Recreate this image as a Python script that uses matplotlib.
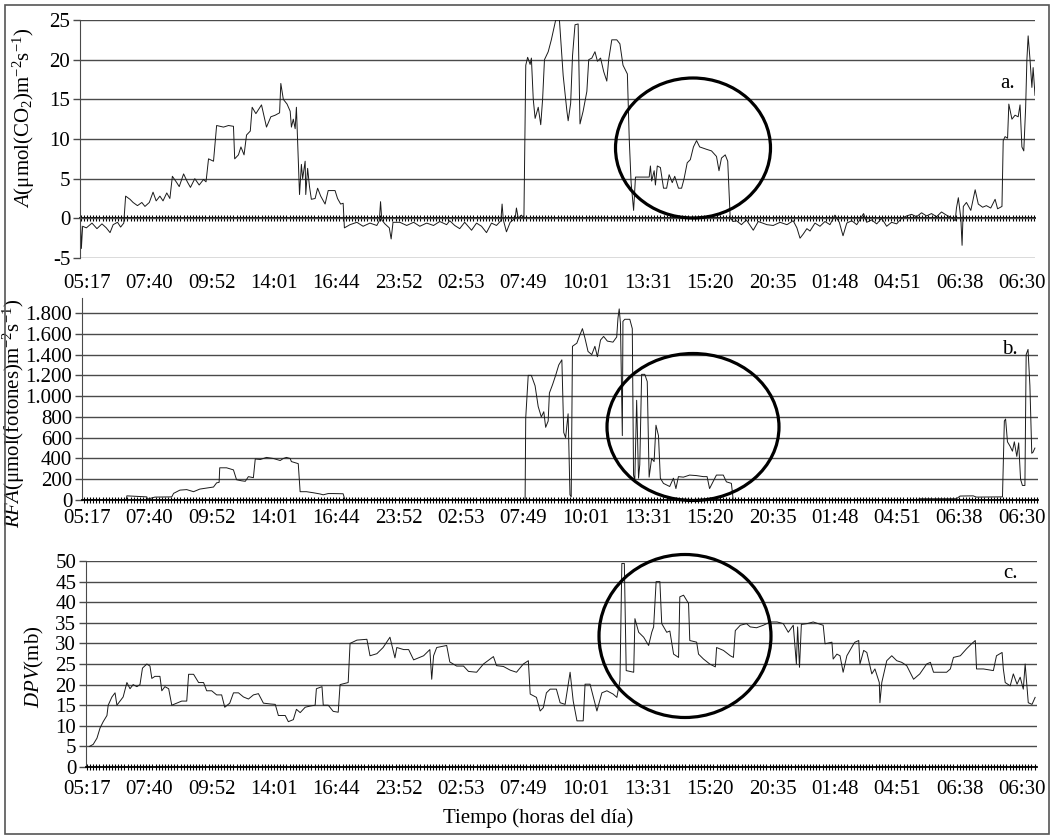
import matplotlib
matplotlib.use('Agg')
import matplotlib.pyplot as plt
from matplotlib.patches import Ellipse, Rectangle
from matplotlib.ticker import MultipleLocator, FuncFormatter

plt.rcParams['font.family'] = ['Liberation Serif', 'DejaVu Serif']
plt.rcParams['mathtext.fontset'] = 'custom'
plt.rcParams['mathtext.rm'] = 'Liberation Serif'
plt.rcParams['mathtext.it'] = 'Liberation Serif:italic'
plt.rcParams['axes.unicode_minus'] = False

# etiquetas del eje de tiempo (una cada intervalo de muestras)
horas = ['05:17', '07:40', '09:52', '14:01', '16:44', '23:52', '02:53', '07:49',
         '10:01', '13:31', '15:20', '20:35', '01:48', '04:51', '06:38', '06:30']

# a. asimilación de CO2 -- posición en intervalos de etiqueta, valor
a_t = [-0.10, -0.09, -0.07, -0.01, 0.08, 0.16, 0.24, 0.31, 0.37, 0.42, 0.49, 0.54, 0.59,
       0.62, 0.69, 0.74, 0.81, 0.88, 0.93, 1.00, 1.06, 1.11, 1.17, 1.22, 1.28, 1.33,
       1.37, 1.44, 1.48, 1.55, 1.61, 1.66, 1.73, 1.80, 1.87, 1.91, 1.95, 2.03, 2.08,
       2.19, 2.27, 2.35, 2.37, 2.43, 2.47, 2.52, 2.56, 2.62, 2.65, 2.71, 2.80, 2.88,
       2.95, 3.02, 3.09, 3.11, 3.15, 3.21, 3.26, 3.28, 3.31, 3.34, 3.36, 3.39, 3.41,
       3.44, 3.46, 3.50, 3.51, 3.54, 3.57, 3.60, 3.66, 3.70, 3.75, 3.82, 3.87, 3.98,
       4.02, 4.07, 4.11, 4.13, 4.22, 4.33, 4.43, 4.54, 4.65, 4.69, 4.71, 4.73, 4.78,
       4.85, 4.88, 4.91, 5.02, 5.13, 5.24, 5.34, 5.45, 5.56, 5.66, 5.77, 5.82, 5.90,
       5.98, 6.06, 6.17, 6.25, 6.33, 6.41, 6.49, 6.57, 6.64, 6.66, 6.68, 6.73, 6.79,
       6.87, 6.89, 6.92, 6.97, 7.01, 7.04, 7.07, 7.11, 7.13, 7.16, 7.19, 7.24, 7.28,
       7.31, 7.34, 7.40, 7.45, 7.52, 7.58, 7.64, 7.70, 7.72, 7.76, 7.79, 7.83, 7.88,
       7.91, 7.96, 8.02, 8.05, 8.10, 8.15, 8.19, 8.24, 8.29, 8.34, 8.37, 8.42, 8.50,
       8.55, 8.60, 8.67, 8.70, 8.73, 8.77, 8.80, 8.93, 9.02, 9.04, 9.06, 9.10, 9.12,
       9.15, 9.20, 9.25, 9.30, 9.34, 9.39, 9.43, 9.49, 9.54, 9.58, 9.63, 9.68, 9.73,
       9.78, 9.83, 9.94, 10.02, 10.10, 10.14, 10.18, 10.24, 10.28, 10.32, 10.37,
       10.42, 10.50, 10.58, 10.69, 10.77, 10.91, 11.01, 11.12, 11.23, 11.33, 11.39,
       11.44, 11.49, 11.55, 11.60, 11.68, 11.76, 11.84, 11.92, 12.00, 12.07, 12.13,
       12.19, 12.27, 12.35, 12.46, 12.51, 12.59, 12.67, 12.75, 12.83, 12.91, 12.99,
       13.07, 13.15, 13.23, 13.31, 13.39, 13.47, 13.55, 13.63, 13.71, 13.79, 13.87,
       13.93, 13.95, 13.98, 14.02, 14.04, 14.06, 14.11, 14.18, 14.25, 14.30, 14.37,
       14.43, 14.50, 14.57, 14.61, 14.68, 14.70, 14.73, 14.77, 14.79, 14.84, 14.89,
       14.94, 14.97, 15.00, 15.03, 15.06, 15.08, 15.10, 15.13, 15.16, 15.18, 15.21]
a_v = [-1.0, -3.8, -1.0, -1.2, -0.6, -1.3, -0.7, -1.2, -1.8, -0.8, -0.5, -1.1, -0.6,
       2.8, 2.4, 2.0, 1.6, 2.0, 1.5, 2.0, 3.3, 2.2, 2.8, 2.2, 3.2, 2.5,
       5.3, 4.5, 4.0, 5.6, 4.6, 3.9, 5.0, 4.2, 4.9, 4.6, 7.5, 7.2, 11.7,
       11.5, 11.7, 11.6, 7.5, 8.0, 9.0, 8.0, 10.5, 11.0, 14.0, 13.2, 14.3, 11.5,
       12.8, 13.0, 13.3, 17.0, 15.0, 14.4, 13.5, 11.5, 12.5, 11.3, 14.0, 7.5, 3.0,
       6.8, 5.0, 7.2, 3.0, 6.3, 4.0, 2.4, 2.5, 3.8, 2.8, 1.8, 3.5, 3.5,
       2.5, 1.8, 1.9, -1.2, -0.8, -0.5, -1.0, -0.6, -0.9, -0.3, 2.1, -0.2, -0.7,
       -1.2, -2.6, -0.5, -0.5, -0.9, -0.5, -1.0, -0.6, -0.9, -0.4, -0.8, -0.3, -0.9,
       -1.3, -0.5, -1.5, -0.6, -1.0, -1.8, -0.6, -0.9, -0.3, 1.8, -0.2, -1.7, -0.5,
       0.0, 1.3, 0.0, 0.4, 0.0, 19.3, 20.3, 19.4, 20.2, 15.0, 12.6, 14.0, 11.8,
       15.0, 20.0, 21.0, 22.5, 25.0, 25.0, 18.0, 13.5, 12.3, 14.5, 20.5, 24.4, 24.5,
       11.9, 13.5, 16.0, 20.0, 20.2, 21.0, 19.8, 20.2, 18.5, 17.3, 20.0, 22.5, 22.5,
       22.0, 19.3, 18.2, 10.0, 4.5, 1.0, 5.2, 5.2, 5.2, 6.6, 4.7, 6.0, 4.2,
       6.6, 6.4, 3.8, 3.8, 5.5, 4.5, 5.3, 3.8, 3.8, 5.0, 7.0, 7.4, 9.0,
       9.8, 9.0, 8.7, 8.5, 7.8, 6.0, 7.6, 8.0, 7.2, 0.0, -0.4,
       -0.3, -0.8, -0.2, -1.5, -0.4, -0.8, -0.9, -0.5, -0.8, -0.3, -1.2,
       -2.5, -2.0, -1.3, -1.6, -0.6, -1.0, -0.4, -0.8, 0.4, -0.5, -2.2,
       -0.6, -0.3, -0.8, 0.6, -0.5, -0.2, -0.7, 0.0, -1.0, -0.5, -0.7,
       0.0, 0.3, 0.5, 0.2, 0.7, 0.3, 0.6, 0.2, 0.8, 0.4, 0.1,
       -0.3, 1.3, 2.6, 0.0, -3.4, 1.5, 2.0, 1.0, 3.6, 1.8, 1.4,
       1.6, 1.3, 2.4, 1.2, 1.5, 9.8, 10.3, 10.1, 14.4, 12.5, 13.0,
       12.8, 14.3, 9.0, 8.5, 14.0, 20.0, 23.0, 20.0, 16.5, 19.0, 15.5]

# b. radiación fotosintéticamente activa
b_t = [-0.08, 0.63, 0.64, 0.96, 0.97, 1.09, 1.36, 1.39, 1.49, 1.60, 1.71, 1.81, 1.92,
       2.03, 2.08, 2.12, 2.13, 2.24, 2.35, 2.40, 2.48, 2.54, 2.59, 2.67, 2.70, 2.78,
       2.88, 2.99, 3.10, 3.15, 3.20, 3.26, 3.28, 3.39, 3.42, 3.52, 3.63, 3.74, 3.79,
       3.87, 3.95, 4.11, 4.14, 7.03, 7.04, 7.08, 7.13, 7.19, 7.24, 7.29, 7.33, 7.36,
       7.40, 7.42, 7.47, 7.52, 7.57, 7.62, 7.65, 7.68, 7.72, 7.75, 7.77, 7.79, 7.86,
       7.91, 7.95, 7.99, 8.04, 8.10, 8.15, 8.19, 8.24, 8.29, 8.35, 8.44, 8.50, 8.52,
       8.54, 8.56, 8.59, 8.60, 8.63, 8.71, 8.75, 8.77, 8.79, 8.82, 8.85, 8.87, 8.90,
       8.95, 8.99, 9.02, 9.06, 9.10, 9.13, 9.17, 9.20, 9.25, 9.30, 9.35, 9.41, 9.45,
       9.49, 9.57, 9.67, 9.78, 9.89, 9.95, 9.99, 10.05, 10.10, 10.21, 10.26, 10.34,
       10.37, 13.31, 13.36, 13.95, 14.01, 14.22, 14.27, 14.69, 14.72, 14.74, 14.77,
       14.81, 14.85, 14.88, 14.92, 14.95, 14.98, 15.01, 15.05, 15.07, 15.10, 15.13,
       15.16, 15.18, 15.21]
b_v = [0, 0, 40, 30, 8, 28, 30, 64, 95, 100, 80, 105, 115,
       125, 165, 170, 310, 310, 290, 195, 185, 180, 225, 215, 395, 390,
       410, 400, 380, 400, 410, 400, 370, 350, 80, 80, 70, 58, 50,
       62, 62, 60, 0, 0, 790, 1200, 1200, 1100, 900, 800, 850, 700,
       760, 1030, 1110, 1200, 1300, 1350, 650, 600, 830, 50, 30, 1480, 1510,
       1590, 1650, 1560, 1430, 1400, 1480, 1380, 1540, 1575, 1530, 1520, 1570, 1750,
       1840, 1700, 620, 1720, 1740, 1740, 1650, 240, 190, 960, 210, 340, 1210,
       1210, 1140, 220, 400, 370, 720, 620, 210, 160, 145, 130, 210, 110,
       225, 220, 240, 235, 225, 225, 110, 180, 240, 240, 175, 160,
       0, 0, 12, 12, 38, 40, 28, 30, 760, 780, 560,
       520, 470, 560, 420, 550, 200, 140, 140, 1400, 1450, 1100,
       450, 460, 500]

# c. déficit de presión de vapor
c_t = [0.04, 0.10, 0.16, 0.21, 0.26, 0.32, 0.34, 0.40, 0.45, 0.48, 0.53, 0.58, 0.64,
       0.69, 0.74, 0.80, 0.85, 0.89, 0.96, 1.01, 1.04, 1.09, 1.17, 1.20, 1.25, 1.31,
       1.36, 1.44, 1.52, 1.60, 1.63, 1.71, 1.79, 1.87, 1.92, 2.00, 2.08, 2.16, 2.21,
       2.29, 2.35, 2.43, 2.51, 2.59, 2.67, 2.75, 2.83, 2.94, 3.02, 3.07, 3.18, 3.23,
       3.31, 3.36, 3.42, 3.50, 3.58, 3.66, 3.68, 3.77, 3.79, 3.87, 3.95, 4.03, 4.06,
       4.19, 4.22, 4.33, 4.49, 4.54, 4.65, 4.75, 4.86, 4.94, 4.97, 5.08, 5.16, 5.24,
       5.40, 5.50, 5.53, 5.56, 5.61, 5.77, 5.82, 5.93, 6.04, 6.12, 6.25, 6.36, 6.52,
       6.57, 6.68, 6.79, 6.89, 7.00, 7.08, 7.11, 7.21, 7.27, 7.32, 7.37, 7.43, 7.53,
       7.59, 7.67, 7.75, 7.80, 7.86, 7.96, 7.99, 8.07, 8.18, 8.26, 8.34, 8.44, 8.50,
       8.55, 8.58, 8.62, 8.65, 8.77, 8.79, 8.85, 8.93, 9.01, 9.06, 9.09, 9.13, 9.19,
       9.22, 9.30, 9.35, 9.41, 9.49, 9.51, 9.57, 9.65, 9.67, 9.78, 9.81, 9.89, 9.99,
       10.08, 10.10, 10.21, 10.32, 10.37, 10.40, 10.48, 10.58, 10.64, 10.74, 10.85,
       10.96, 11.07, 11.17, 11.25, 11.33, 11.38, 11.40, 11.43, 11.46, 11.55, 11.65,
       11.81, 11.84, 11.95, 11.97, 12.03, 12.08, 12.13, 12.19, 12.30, 12.32, 12.38,
       12.40, 12.46, 12.51, 12.59, 12.64, 12.71, 12.72, 12.75, 12.83, 12.91, 12.99,
       13.07, 13.15, 13.26, 13.36, 13.47, 13.53, 13.58, 13.79, 13.85, 13.90, 14.01,
       14.11, 14.19, 14.25, 14.27, 14.38, 14.54, 14.59, 14.68, 14.70, 14.73, 14.81,
       14.86, 14.92, 14.97, 15.02, 15.05, 15.08, 15.10, 15.16, 15.21]
c_v = [5.0, 5.5, 7.0, 9.5, 11.0, 12.5, 15.0, 17.0, 18.0, 15.0, 16.0, 17.0, 20.5,
       19.0, 20.0, 19.5, 20.0, 24.0, 25.0, 24.5, 21.5, 22.0, 22.0, 18.5, 19.5, 19.0,
       15.0, 15.5, 16.0, 16.0, 22.5, 22.5, 20.5, 20.5, 18.5, 18.5, 17.5, 17.5, 14.5,
       15.5, 18.0, 18.0, 17.0, 16.5, 17.5, 17.8, 15.5, 15.3, 15.2, 12.5, 12.5, 11.0,
       11.5, 14.0, 13.2, 14.5, 14.8, 15.0, 19.0, 19.5, 15.0, 15.0, 13.5, 13.3, 20.0,
       20.5, 30.0, 30.8, 31.0, 27.0, 27.5, 29.0, 31.5, 26.5, 29.0, 28.5, 28.5, 26.0,
       27.0, 28.5, 21.3, 27.0, 29.0, 29.5, 25.5, 24.5, 24.5, 23.2, 23.0, 25.0, 26.8,
       24.6, 24.4, 23.5, 23.0, 25.0, 25.8, 17.7, 16.9, 13.6, 14.4, 18.0, 18.9, 18.9,
       15.6, 15.2, 23.0, 16.0, 11.2, 11.2, 20.1, 20.1, 13.6, 18.0, 18.5, 17.7, 16.9,
       21.0, 49.4, 49.4, 23.4, 23.0, 36.0, 32.7, 31.5, 29.5, 32.7, 34.0, 45.0, 45.0,
       34.8, 32.7, 33.0, 27.4, 26.6, 41.3, 41.7, 39.7, 30.7, 30.3, 27.4, 26.2, 25.0,
       24.3, 29.0, 28.3, 27.0, 26.6, 33.1, 34.4, 34.8, 34.0, 33.8, 34.4,
       35.2, 35.2, 34.8, 32.7, 34.4, 25.0, 34.0, 24.2, 34.6, 34.8, 35.2,
       34.4, 29.9, 30.3, 26.2, 27.4, 27.0, 23.0, 27.0, 29.9, 30.3, 30.7,
       25.0, 28.3, 27.8, 22.6, 23.8, 20.5, 15.6, 20.5, 25.8, 27.0, 25.8,
       25.4, 24.6, 21.3, 22.6, 25.0, 25.4, 23.0, 23.0, 23.8, 26.6, 27.0,
       28.7, 29.9, 30.7, 23.8, 23.8, 23.4, 27.0, 27.8, 23.8, 20.5, 19.7,
       22.6, 20.1, 21.8, 18.9, 25.0, 19.3, 15.6, 15.2, 16.9]

W, H = 1056, 835
FS = 15
GRID = '#4a4a4a'
LINE = '#1a1a1a'


def caja(x0, y0, x1, y1):
    # rectángulo en píxeles (origen arriba a la izquierda) -> fracción de figura
    return [x0 / W, 1 - y1 / H, (x1 - x0) / W, (y1 - y0) / H]


def base(ax, ylim, yticks):
    ax.set_ylim(*ylim)
    ax.set_yticks(yticks)
    ax.grid(axis='y', color=GRID, linewidth=1.0)
    ax.set_axisbelow(True)
    for s in ['top', 'right']:
        ax.spines[s].set_visible(False)
    ax.spines['left'].set_color(GRID)
    ax.tick_params(axis='y', labelsize=FS, length=5, width=1.0, color=GRID, pad=2)
    ax.set_xticks(range(len(horas)))
    ax.set_xticklabels(horas, fontsize=FS)


fig = plt.figure(figsize=(W / 100, H / 100), dpi=100)

# --- a ---
ax1 = fig.add_axes(caja(80, 20, 1035, 258))
ax1.plot(a_t, a_v, color=LINE, linewidth=0.7)
ax1.set_xlim(-0.112, 15.21)
base(ax1, (-5, 25), range(-5, 26, 5))
ax1.spines['bottom'].set_visible(False)
ax1.tick_params(axis='x', length=0, pad=11.5)
eje0 = ax1.secondary_xaxis(5 / 30)
eje0.xaxis.set_major_locator(MultipleLocator(0.05))
eje0.tick_params(length=4, width=0.8, direction='inout', labelbottom=False)
eje0.spines['bottom'].set_linewidth(1.3)
ax1.set_ylabel(r'$\mathit{A}$(μmol(CO$_2$)m$^{-2}$s$^{-1}$)', fontsize=FS)
ax1.yaxis.set_label_coords(-0.045, 0.59)

# --- b ---
ax2 = fig.add_axes(caja(82, 298, 1038, 500))
ax2.plot(b_t, b_v, color=LINE, linewidth=0.7)
ax2.set_xlim(-0.08, 15.26)
base(ax2, (0, 1945), range(0, 1801, 200))
ax2.yaxis.set_major_formatter(FuncFormatter(lambda v, p: f'{int(v):,}'.replace(',', '.')))
ax2.xaxis.set_minor_locator(MultipleLocator(0.05))
ax2.tick_params(axis='x', which='both', length=4, width=0.8, direction='inout', pad=4.5)
ax2.spines['bottom'].set_linewidth(1.3)
ax2.set_ylabel(r'$\mathit{RFA}$(μmol(fotones)m$^{-2}$s$^{-1}$)', fontsize=FS)
ax2.yaxis.set_label_coords(-0.0575, 0.43)

# --- c ---
ax3 = fig.add_axes(caja(86, 561, 1037, 767))
ax3.plot(c_t, c_v, color=LINE, linewidth=0.7)
ax3.set_xlim(-0.016, 15.24)
base(ax3, (0, 50), range(0, 51, 5))
ax3.xaxis.set_minor_locator(MultipleLocator(0.05))
ax3.tick_params(axis='x', which='both', length=4, width=0.8, direction='inout', pad=7.5)
ax3.spines['bottom'].set_linewidth(1.3)
ax3.set_ylabel(r'$\mathit{DPV}$(mb)', fontsize=FS)
ax3.yaxis.set_label_coords(-0.042, 0.485)

fig.text(538 / W, 1 - 818 / H, 'Tiempo (horas del día)', fontsize=FS,
         ha='center', va='center')

# letras de panel
for txt, (px, py) in zip(['a.', 'b.', 'c.'], [(1008, 83), (1010, 350), (1010, 573)]):
    fig.text(px / W, 1 - py / H, txt, fontsize=FS, ha='center', va='center')

# elipses que resaltan el intervalo de interés
for cx, cy, w, h in [(693, 148, 155, 140), (693, 427, 172, 147), (685, 636, 172, 163)]:
    fig.add_artist(Ellipse((cx / W, 1 - cy / H), w / W, h / H, fill=False,
                           edgecolor='black', linewidth=2.3,
                           transform=fig.transFigure))

# marco exterior
fig.add_artist(Rectangle((5 / W, 1 / H), 1044 / W, 829 / H, fill=False,
                         edgecolor='#555555', linewidth=1.2,
                         transform=fig.transFigure))

fig.savefig('out.png', dpi=100)
